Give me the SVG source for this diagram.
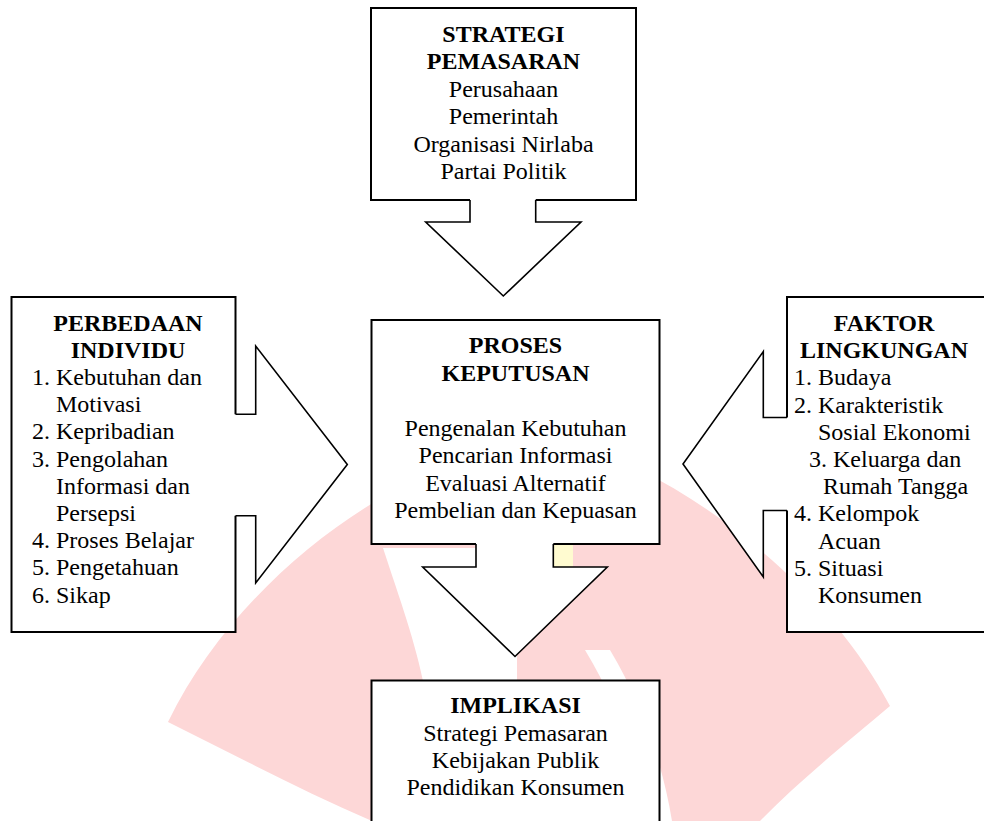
<svg xmlns="http://www.w3.org/2000/svg" width="984" height="821" viewBox="0 0 984 821">
<style>
text{font-family:"Liberation Serif","Times New Roman",serif;font-size:24px;fill:#000}
.b{font-weight:bold}
.c{text-anchor:middle}
.box{fill:#fff;stroke:#000;stroke-width:2}
.af{fill:#fff;stroke:none}
.ao{fill:none;stroke:#000;stroke-width:1.6;stroke-linejoin:miter}
.wm{fill:#fdd7d7}
</style>
<rect width="984" height="821" fill="#fff"/>
<g id="watermark">
<path class="wm" d="M168 722 C215 625 300 545 383 497 L640 470 C740 520 840 610 890 706 C850 740 800 780 760 821 L372 821 C300 790 235 755 168 722 Z"/>
<path d="M383 548 C400 600 415 640 425 690 L517 690 L517 548 Z" fill="#fff"/>
<path d="M585 650 C615 700 640 760 650 821 L672 821 C662 760 640 700 610 650 Z" fill="#fff"/>
<path d="M150 735 C230 765 300 795 360 821 L330 821 C280 800 220 775 150 750 Z" fill="#fff"/>
<rect x="517" y="658" width="18" height="30" fill="#fdd7d7"/>
<rect x="553" y="543" width="20" height="24" fill="#fffbd0"/>
</g>
<g id="node-strategi">
<rect class="box" x="371" y="8" width="265" height="192"/>
<text class="b c" x="503.5" y="41.5">STRATEGI</text>
<text class="b c" x="503.5" y="69">PEMASARAN</text>
<text class="c" x="503.5" y="96.5">Perusahaan</text>
<text class="c" x="503.5" y="124">Pemerintah</text>
<text class="c" x="503.5" y="151.5">Organisasi Nirlaba</text>
<text class="c" x="503.5" y="179">Partai Politik</text>
</g>
<g id="node-individu">
<rect class="box" x="11.5" y="297" width="224" height="335"/>
<text class="b c" x="128" y="330.5">PERBEDAAN</text>
<text class="b c" x="128" y="357.7">INDIVIDU</text>
<text x="32" y="384.9">1. Kebutuhan dan</text>
<text x="56" y="412.1">Motivasi</text>
<text x="32" y="439.3">2. Kepribadian</text>
<text x="32" y="466.5">3. Pengolahan</text>
<text x="56" y="493.7">Informasi dan</text>
<text x="56" y="520.9">Persepsi</text>
<text x="32" y="548.1">4. Proses Belajar</text>
<text x="32" y="575.3">5. Pengetahuan</text>
<text x="32" y="602.5">6. Sikap</text>
</g>
<g id="node-proses">
<rect class="box" x="371.5" y="320" width="288" height="224"/>
<text class="b c" x="515.5" y="353">PROSES</text>
<text class="b c" x="515.5" y="380.5">KEPUTUSAN</text>
<text class="c" x="515.5" y="435.5">Pengenalan Kebutuhan</text>
<text class="c" x="515.5" y="463">Pencarian Informasi</text>
<text class="c" x="515.5" y="490.5">Evaluasi Alternatif</text>
<text class="c" x="515.5" y="518">Pembelian dan Kepuasan</text>
</g>
<g id="node-lingkungan">
<rect class="box" x="787" y="297" width="220" height="335"/>
<text class="b c" x="884" y="331">FAKTOR</text>
<text class="b c" x="884" y="358.2">LINGKUNGAN</text>
<text x="794" y="385.4">1. Budaya</text>
<text x="794" y="412.6">2. Karakteristik</text>
<text x="818" y="439.8">Sosial Ekonomi</text>
<text x="809" y="467">3. Keluarga dan</text>
<text x="823" y="494.2">Rumah Tangga</text>
<text x="794" y="521.4">4. Kelompok</text>
<text x="818" y="548.6">Acuan</text>
<text x="794" y="575.8">5. Situasi</text>
<text x="818" y="603">Konsumen</text>
</g>
<g id="node-implikasi">
<rect class="box" x="371.5" y="680.5" width="288" height="160"/>
<text class="b c" x="515.5" y="713.3">IMPLIKASI</text>
<text class="c" x="515.5" y="740.5">Strategi Pemasaran</text>
<text class="c" x="515.5" y="767.7">Kebijakan Publik</text>
<text class="c" x="515.5" y="795">Pendidikan Konsumen</text>
</g>
<g id="connectors">
<polygon class="af" points="470,197 470,222 425.7,222 503.3,296 581,222 535.7,222 535.7,197"/>
<polyline class="ao" points="470,200 470,222 425.7,222 503.3,296 581,222 535.7,222 535.7,200"/>
<polygon class="af" points="232,414.3 255.7,414.3 255.7,346 347.3,464.5 255.7,583 255.7,515.7 232,515.7"/>
<polyline class="ao" points="235.5,414.3 255.7,414.3 255.7,346 347.3,464.5 255.7,583 255.7,515.7 235.5,515.7"/>
<polygon class="af" points="790,417.5 763.3,417.5 763.3,351.5 683,464 763.3,577 763.3,510.5 790,510.5"/>
<polyline class="ao" points="787,417.5 763.3,417.5 763.3,351.5 683,464 763.3,577 763.3,510.5 787,510.5"/>
<polygon class="af" points="476,541 476,567 422.7,567 515,656.5 607.3,567 553.3,567 553.3,541"/>
<polyline class="ao" points="476,544 476,567 422.7,567 515,656.5 607.3,567 553.3,567 553.3,544"/>
</g>
</svg>
